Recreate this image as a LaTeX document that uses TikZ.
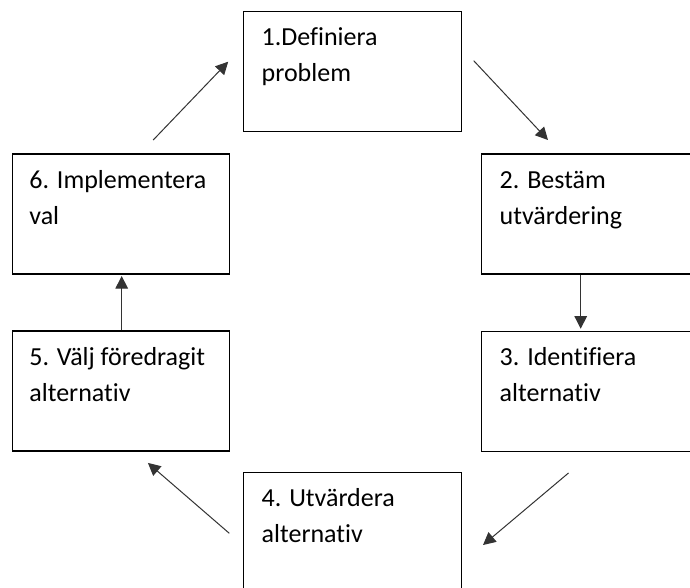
\documentclass[tikz,border=0pt]{standalone}
\usepackage{fontspec}
\setmainfont{Carlito}[Ligatures={NoCommon}]
\usetikzlibrary{arrows.meta,calc}
\begin{document}
\begin{tikzpicture}[x=1pt,y=-1pt,
  stepbox/.style={draw=black,line width=1.2pt,minimum width=218pt,minimum height=120pt,anchor=north west,inner sep=0pt},
  lbl/.style={anchor=base west,align=left,inner sep=0pt,font=\fontsize{26pt}{35.7pt}\selectfont,text=black},
  conn/.style={draw=black!80,line width=1pt,-{Triangle[length=12.5pt,width=12.5pt]}}]
\useasboundingbox (0,0) rectangle (690,587);
\clip (0,0) rectangle (690,587);
\fill[white] (0,0) rectangle (690,587);
% boxes
\node[stepbox] (b1) at (243,10.7) {};
\node[stepbox] (b2) at (481,153.3) {};
\node[stepbox] (b3) at (481,330.7) {};
\node[stepbox] (b4) at (243,471.7) {};
\node[stepbox,minimum width=217.5pt] (b5) at (11.7,330.3) {};
\node[stepbox,minimum width=217.5pt] (b6) at (11.7,153.3) {};
% texts (base anchor = last line baseline)
\node[lbl] (t1) at ($(b1.north west)+(18.5,70.7)$) {1.Definiera\\problem};
\node[lbl] (t2) at ($(b2.north west)+(18.5,70.7)$) {2. Bestäm\\utvärdering};
\node[lbl] (t3) at ($(b3.north west)+(18.5,70.7)$) {3. Identifiera\\alternativ};
\node[lbl] (t4) at ($(b4.north west)+(18.5,70.7)$) {4. Utvärdera\\alternativ};
\node[lbl] (t5) at ($(b5.north west)+(17.5,70.7)$) {5. Välj föredragit\\alternativ};
\node[lbl] (t6) at ($(b6.north west)+(17.5,70.7)$) {6. Implementera\\val};
% connectors
\draw[conn] ($(b6.north west)+(141.5,-13.3)$) -- ($(b1.north west)+(-14.8,51)$);
\draw[conn] ($(b1.north east)+(11.5,50)$) -- ($(b2.north west)+(67,-13.3)$);
\draw[conn] ($(b2.south west)+(99.7,0)$) -- ($(b3.north west)+(99.7,-2)$);
\draw[conn] ($(b5.north west)+(110,0)$) -- ($(b6.south west)+(110,1.5)$);
\draw[conn] ($(b3.south west)+(87.6,21)$) -- ($(b4.north east)+(20.8,73.3)$);
\draw[conn] ($(b4.north west)+(-13.7,61.6)$) -- ($(b5.south west)+(136.2,11.4)$);
\end{tikzpicture}
\end{document}
